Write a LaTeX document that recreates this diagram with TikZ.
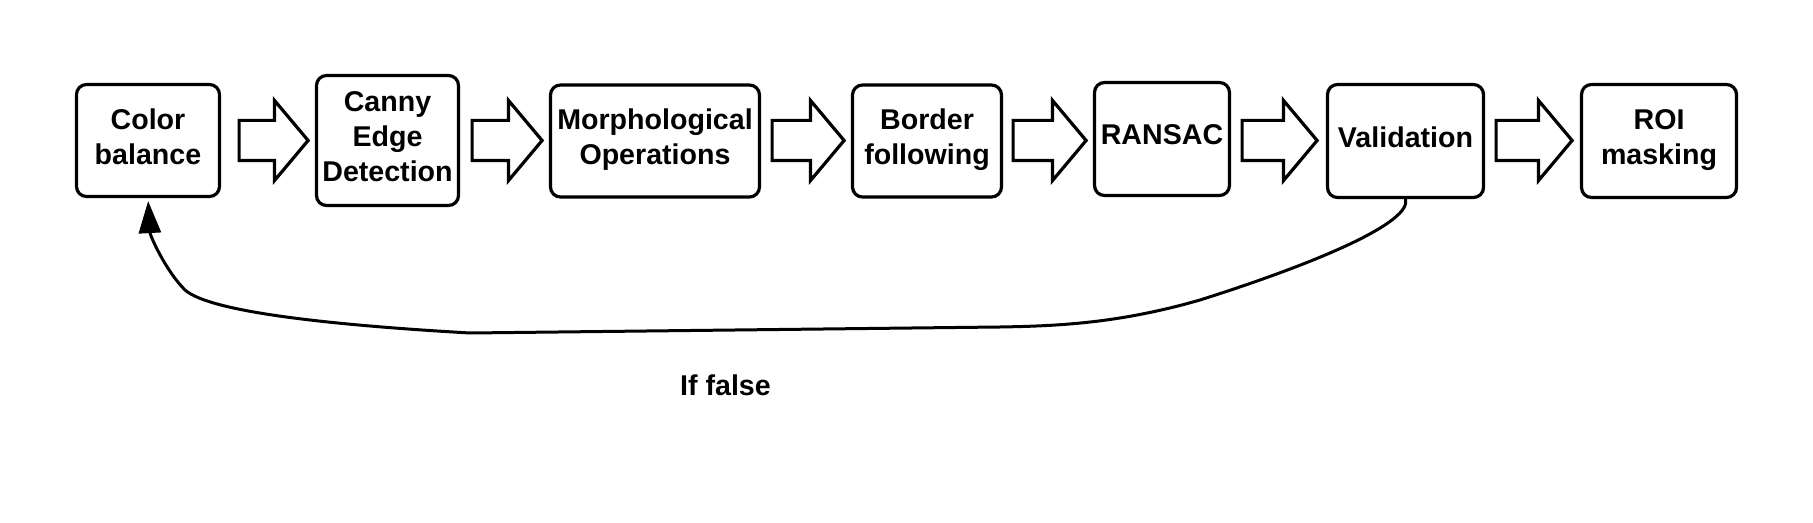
\documentclass[tikz,border=0pt]{standalone}
\usepackage{fontspec}
\setmainfont{Liberation Sans}
\usepackage{tikz}
\usetikzlibrary{shapes.arrows, arrows.meta}

\begin{document}
\begin{tikzpicture}[x=0.5pt, y=-0.5pt,
    every node/.style={font=\fontsize{14.3}{17.4}\selectfont\bfseries},
    stage/.style={draw, line width=1.6pt, rounded corners=5pt, align=center,
        inner sep=0pt, text depth=4pt, minimum height=56pt},
    flowarrow/.style={draw, line width=1.6pt, single arrow, anchor=tail,
        single arrow head extend=10pt, single arrow tip angle=100,
        inner xsep=0pt, inner ysep=9.25pt}]
    \useasboundingbox (0,0) rectangle (1813,523);
    \node[stage, minimum width=71.5pt] (col) at (148,140.5) {Color\\balance};
    \node[stage, minimum width=71pt, minimum height=65pt] (can) at (387.5,140.5) {Canny\\Edge\\Detection};
    \node[stage, minimum width=104.5pt] (mor) at (655,141) {Morphological\\Operations};
    \node[stage, minimum width=74.5pt] (bor) at (927,141) {Border\\following};
    \node[stage, minimum width=67.5pt, minimum height=56.5pt] (ran) at (1162,139) {RANSAC};
    \node[stage, minimum width=78pt, minimum height=56.5pt] (val) at (1405.5,141) {Validation};
    \node[stage, minimum width=77.5pt, minimum height=56.5pt] (roi) at (1659,141) {ROI\\masking};
    \foreach \n/\x/\l in {a1/237.5/34.5pt, a2/470.5/35pt, a3/770.5/36pt,
            a4/1011.5/36.5pt, a5/1240.5/37.5pt, a6/1494.5/38pt} {
        \node[flowarrow, minimum height=\l] (\n) at (\x,140.5) {};
    }
    \draw[line width=1.5pt, -{Triangle[width=11pt, length=16pt]}, shorten >=1.5pt]
        (val.south) .. controls (1412,222) and (1320,262) .. (1200,300)
        .. controls (1120,323) and (1060,326) .. (1000,327)
        -- (470,333)
        .. controls (330,325) and (210,312) .. (185,290)
        .. controls (165,270) and (150,235) .. (col.south);
    \node (iffalse) at (725.5,385) {If false};
\end{tikzpicture}
\end{document}
